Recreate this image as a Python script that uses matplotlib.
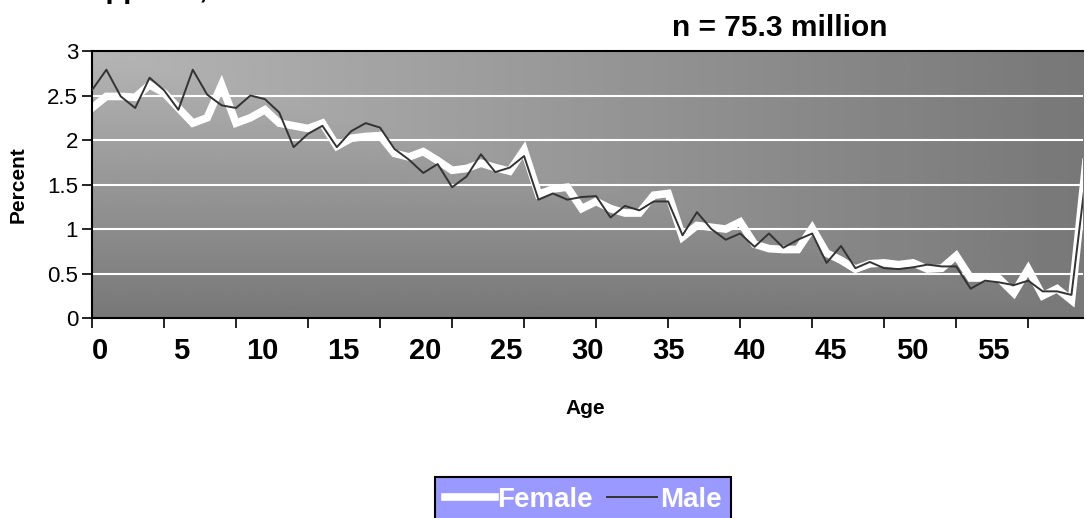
import numpy as np
import matplotlib
matplotlib.use("Agg")
import matplotlib.pyplot as plt

plt.rcParams['font.family'] = ['Liberation Sans', 'DejaVu Sans']

# one value per category (single year of age, last one is the open group)
cats = list(range(70))
female = [2.36, 2.49, 2.49, 2.48, 2.62, 2.53, 2.36, 2.19, 2.25, 2.62,
          2.19, 2.25, 2.34, 2.19, 2.16, 2.13, 2.19, 1.93, 2.02, 2.04,
          2.05, 1.85, 1.81, 1.87, 1.77, 1.66, 1.68, 1.74, 1.69, 1.65,
          1.89, 1.39, 1.45, 1.47, 1.23, 1.31, 1.23, 1.18, 1.18, 1.38,
          1.40, 0.91, 1.04, 1.02, 1.00, 1.08, 0.83, 0.78, 0.77, 0.77,
          1.01, 0.73, 0.65, 0.55, 0.61, 0.62, 0.60, 0.62, 0.55, 0.56,
          0.70, 0.45, 0.45, 0.44, 0.28, 0.55, 0.25, 0.33, 0.20, 1.75]
male = [2.56, 2.79, 2.49, 2.36, 2.70, 2.56, 2.34, 2.79, 2.51, 2.39,
        2.36, 2.50, 2.46, 2.31, 1.92, 2.07, 2.16, 1.92, 2.10, 2.19,
        2.14, 1.90, 1.78, 1.63, 1.73, 1.47, 1.59, 1.84, 1.64, 1.69,
        1.82, 1.33, 1.40, 1.33, 1.36, 1.37, 1.13, 1.26, 1.21, 1.31,
        1.31, 0.93, 1.19, 1.00, 0.88, 0.95, 0.80, 0.95, 0.79, 0.88,
        0.95, 0.62, 0.81, 0.56, 0.63, 0.56, 0.55, 0.57, 0.60, 0.58,
        0.58, 0.33, 0.42, 0.40, 0.37, 0.42, 0.30, 0.30, 0.26, 1.60]
age_labels = [0, 5, 10, 15, 20, 25, 30, 35, 40, 45, 50, 55]
y_ticks = [0, 0.5, 1, 1.5, 2, 2.5, 3]

fig = plt.figure(figsize=(10.87, 5.18), dpi=100)
ax = fig.add_axes([0.0846, 0.386, 0.9117, 0.5155])

xmax = 68.8
# grey gradient fill of the plot area, light top-left to dark bottom-right
gx, gy = np.meshgrid(np.linspace(0, 1, 300), np.linspace(0, 1, 200))
grad = 0.71 - 0.24 * np.maximum(gx, gy)
ax.imshow(grad, extent=[0, xmax, 0, 3], origin='upper', aspect='auto',
          cmap='gray', vmin=0, vmax=1, zorder=0, interpolation='bilinear')
ax.set_ylim(0, 3)
ax.set_xlim(0, xmax)

for y in y_ticks[1:-1]:
    ax.axhline(y, color='white', lw=1.5, zorder=1)

ax.plot(cats, female, color='white', lw=5.5, solid_joinstyle='miter',
        label='Female', zorder=2)
ax.plot(cats, male, color='#333333', lw=1.4, label='Male', zorder=3)

ax.set_yticks(y_ticks)
ax.set_yticklabels(['0', '0.5', '1', '1.5', '2', '2.5', '3'], fontsize=16)
ax.set_xticks(np.arange(0, 66, 5))
ax.set_xticklabels([])
ax.tick_params(direction='out', length=7, width=1.2, color='black')
ax.tick_params(axis='y', pad=3)
for side in ['top', 'right', 'left', 'bottom']:
    ax.spines[side].set_linewidth(1.5)
ax.spines['right'].set_visible(False)
ax.set_ylabel('Percent', fontsize=15, fontweight='bold')
ax.yaxis.set_label_coords(-0.065, 0.5)

# category labels sit on their own scale
ax2 = ax.twiny()
ax2.xaxis.set_ticks_position('bottom')
ax2.set_xlim(-0.5, 60.5)
ax2.set_xticks(age_labels)
ax2.set_xticklabels([str(a) for a in age_labels], fontsize=21, fontweight='bold')
ax2.tick_params(axis='x', length=0, pad=14)
for side in ['top', 'right', 'left', 'bottom']:
    ax2.spines[side].set_visible(False)

fig.text(585 / 1087, 1 - 408 / 518, 'Age', fontsize=15, fontweight='bold',
         ha='center', va='center')
fig.text(780 / 1087, 1 - 28 / 518, 'n = 75.3 million', fontsize=21.5,
         fontweight='bold', ha='center', va='center')
fig.text(44 / 1087, 1 + 2 / 518, 'Philippines, 1990', fontsize=21,
         fontweight='bold', ha='left', va='baseline')

leg = ax.legend(loc='upper left', bbox_to_anchor=(435 / 1087, 1 - 477 / 518),
                bbox_transform=fig.transFigure, ncol=2, frameon=True,
                fancybox=False, borderaxespad=0, handlelength=1.8,
                columnspacing=0.5, handletextpad=0.1, borderpad=0.35,
                prop={'size': 20, 'weight': 'bold'})
leg.get_frame().set_facecolor('#9999FF')
leg.get_frame().set_edgecolor('black')
leg.get_frame().set_linewidth(1.5)
leg.get_frame().set_alpha(1)
for t in leg.get_texts():
    t.set_color('white')

fig.savefig('out.png', dpi=100)
